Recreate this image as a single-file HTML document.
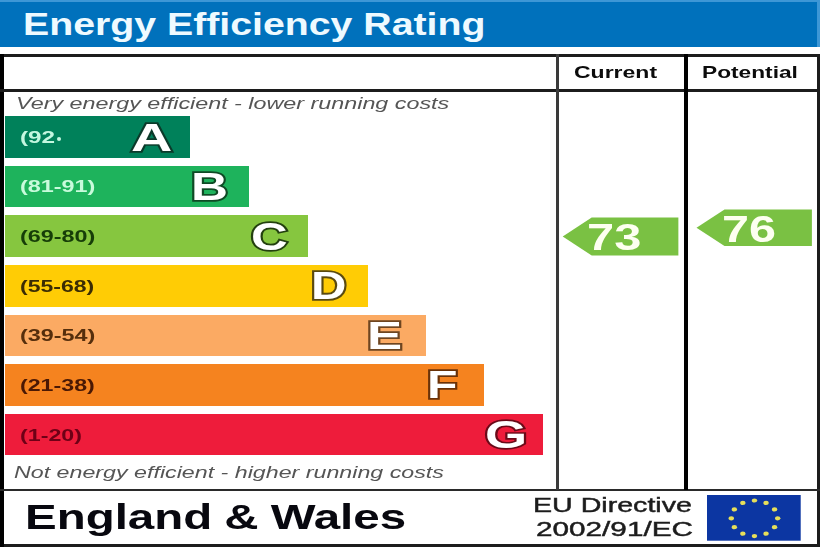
<!DOCTYPE html>
<html>
<head>
<meta charset="utf-8">
<title>Energy Efficiency Rating</title>
<style>
html,body{margin:0;padding:0;}
body{width:820px;height:547px;overflow:hidden;background:#fff;position:relative;font-family:"Liberation Sans",sans-serif;}
#wrap{position:absolute;left:0;top:0;width:820px;height:547px;overflow:hidden;background:#fff;}
#inner{position:absolute;left:0;top:0;width:820px;height:547px;filter:blur(0.55px);}
.abs{position:absolute;}
.t{position:absolute;white-space:nowrap;line-height:1;transform-origin:0 0;}
.b{font-weight:bold;}
.i{font-style:italic;}
.bar{position:absolute;left:4.8px;}
.ln{position:absolute;background:#1c1c1c;}
.lbl{font-weight:bold;font-size:16.8px;}
.ltr{font-weight:bold;font-size:39.5px;color:#fff;paint-order:stroke fill;}
</style>
</head>
<body>
<div id="wrap"><div id="inner">

<!-- header -->
<div class="abs" style="left:-10px;top:-10px;width:840px;height:57px;background:#3d97d6;"></div>
<div class="abs" style="left:-10px;top:1.6px;width:827px;height:45.4px;background:#0071bc;"></div>
<div class="t b" id="title" style="left:22.6px;top:9.1px;font-size:30.6px;color:#eefaff;transform:scaleX(1.283);">Energy Efficiency Rating</div>

<!-- table frame -->
<div class="ln" style="left:-10px;top:54px;width:840px;height:2.8px;"></div>
<div class="ln" style="left:-10px;top:544px;width:840px;height:13px;"></div>
<div class="ln" style="left:-10px;top:54px;width:13.5px;height:503px;background:#000;"></div>
<div class="ln" style="left:817px;top:54px;width:13px;height:503px;"></div>
<div class="ln" style="left:0;top:89.4px;width:820px;height:2.8px;"></div>
<div class="ln" style="left:0;top:488.8px;width:820px;height:2.6px;background:#2a2a2a;"></div>
<div class="ln" style="left:555.6px;top:54px;width:3.8px;height:436px;background:#3a3a3a;"></div>
<div class="ln" style="left:684.2px;top:54px;width:3.6px;height:436px;background:#000;"></div>

<!-- column headings -->
<div class="t b" id="cur" style="left:574.1px;top:65.4px;font-size:16.7px;color:#0c0c0c;transform:scaleX(1.378);">Current</div>
<div class="t b" id="pot" style="left:701.5px;top:65.2px;font-size:16.7px;color:#0c0c0c;transform:scaleX(1.361);">Potential</div>

<!-- captions -->
<div class="t i" id="cap1" style="left:15.6px;top:96.3px;font-size:16px;color:#555;transform:scaleX(1.457);">Very energy efficient - lower running costs</div>
<div class="t i" id="cap2" style="left:14.1px;top:464.3px;font-size:16.4px;color:#555;transform:scaleX(1.417);">Not energy efficient - higher running costs</div>

<!-- bars -->
<div class="bar" style="top:116.1px;height:41.8px;width:185.1px;background:#00815a;"></div>
<div class="bar" style="top:166.4px;height:41.0px;width:244.0px;background:#1eb35c;"></div>
<div class="bar" style="top:215.3px;height:42.1px;width:303.5px;background:#86c63f;"></div>
<div class="bar" style="top:265.1px;height:41.7px;width:363.4px;background:#ffcc05;"></div>
<div class="bar" style="top:314.5px;height:41.8px;width:421.6px;background:#fbaa63;"></div>
<div class="bar" style="top:364.2px;height:41.8px;width:479.4px;background:#f5831f;"></div>
<div class="bar" style="top:414.0px;height:41.4px;width:538.5px;background:#ee1c3b;"></div>

<!-- bar labels -->
<div class="t lbl" id="l1" style="left:19.7px;top:130.0px;color:#c4f7e0;transform:scaleX(1.448);">(92</div>
<div class="t lbl" id="l2" style="left:19.8px;top:179.4px;color:#c9fbdc;transform:scaleX(1.394);">(81-91)</div>
<div class="t lbl" id="l3" style="left:19.8px;top:228.6px;color:#163d08;transform:scaleX(1.394);">(69-80)</div>
<div class="t lbl" id="l4" style="left:19.8px;top:278.6px;color:#3b2c04;transform:scaleX(1.371);">(55-68)</div>
<div class="t lbl" id="l5" style="left:19.8px;top:328.0px;color:#552e0c;transform:scaleX(1.394);">(39-54)</div>
<div class="t lbl" id="l6" style="left:19.8px;top:378.0px;color:#4a1804;transform:scaleX(1.382);">(21-38)</div>
<div class="t lbl" id="l7" style="left:19.8px;top:427.8px;color:#6e0016;transform:scaleX(1.385);">(1-20)</div>
<div class="abs" style="left:57px;top:136.5px;width:4.2px;height:4.2px;background:#c4f7e0;border-radius:50%;"></div>

<!-- bar letters -->
<div class="t ltr" id="A" style="left:130.8px;top:117.7px;-webkit-text-stroke:3.27px #0b3a2a;transform:scaleX(1.45);">A</div>
<div class="t ltr" id="B" style="left:191.2px;top:167.2px;-webkit-text-stroke:3.48px #0f4a25;transform:scaleX(1.297);">B</div>
<div class="t ltr" id="C" style="left:250.6px;top:216.8px;-webkit-text-stroke:3.50px #23400f;transform:scaleX(1.285);">C</div>
<div class="t ltr" id="D" style="left:310.5px;top:266.2px;-webkit-text-stroke:3.57px #5a4a10;transform:scaleX(1.243);">D</div>
<div class="t ltr" id="E" style="left:367.4px;top:315.6px;-webkit-text-stroke:3.43px #6e4520;transform:scaleX(1.333);">E</div>
<div class="t ltr" id="F" style="left:426.9px;top:365.2px;-webkit-text-stroke:3.54px #6a3208;transform:scaleX(1.263);">F</div>
<div class="t ltr" id="G" style="left:485.0px;top:414.7px;-webkit-text-stroke:3.37px #6a0a18;transform:scaleX(1.373);">G</div>

<!-- rating arrows -->
<svg class="abs" style="left:0;top:0;" width="820" height="547" viewBox="0 0 820 547">
  <polygon points="562.7,236.5 591.7,217.4 678.4,217.4 678.4,255.4 591.7,255.4" fill="#7ac143"/>
  <polygon points="696.5,227.7 724.5,209.4 811.9,209.4 811.9,246 724.5,246" fill="#7ac143"/>
</svg>
<div class="t b" id="n73" style="left:587px;top:219.9px;font-size:36.3px;color:#fdfff0;transform:scaleX(1.344);">73</div>
<div class="t b" id="n76" style="left:721.7px;top:212.1px;font-size:36.3px;color:#fdfff0;transform:scaleX(1.337);">76</div>

<!-- footer -->
<div class="t b" id="eng" style="left:24.8px;top:498.9px;font-size:35px;color:#08080f;word-spacing:-0.8px;transform:scaleX(1.356);">England &amp; Wales</div>
<div class="t" id="eu1" style="left:533.2px;top:495px;font-size:20.8px;color:#1c1c1c;-webkit-text-stroke:0.45px #1c1c1c;transform:scaleX(1.375);">EU Directive</div>
<div class="t" id="eu2" style="left:535.6px;top:518.5px;font-size:20.8px;color:#1c1c1c;-webkit-text-stroke:0.45px #1c1c1c;transform:scaleX(1.429);">2002/91/EC</div>

<!-- EU flag -->
<svg class="abs" style="left:707px;top:495px;" width="94" height="46" viewBox="0 0 94 46">
  <rect x="0" y="0" width="93.7" height="45.7" fill="#0c36a2"/>
  <g fill="#e6df5a"><ellipse cx="47.5" cy="5.5" rx="2.7" ry="2.1"/><ellipse cx="59.1" cy="7.9" rx="2.7" ry="2.1"/><ellipse cx="67.6" cy="14.4" rx="2.7" ry="2.1"/><ellipse cx="70.7" cy="23.3" rx="2.7" ry="2.1"/><ellipse cx="67.6" cy="32.2" rx="2.7" ry="2.1"/><ellipse cx="59.1" cy="38.7" rx="2.7" ry="2.1"/><ellipse cx="47.5" cy="41.1" rx="2.7" ry="2.1"/><ellipse cx="35.9" cy="38.7" rx="2.7" ry="2.1"/><ellipse cx="27.4" cy="32.2" rx="2.7" ry="2.1"/><ellipse cx="24.3" cy="23.3" rx="2.7" ry="2.1"/><ellipse cx="27.4" cy="14.4" rx="2.7" ry="2.1"/><ellipse cx="35.9" cy="7.9" rx="2.7" ry="2.1"/></g>
</svg>

</div></div>
</body>
</html>
